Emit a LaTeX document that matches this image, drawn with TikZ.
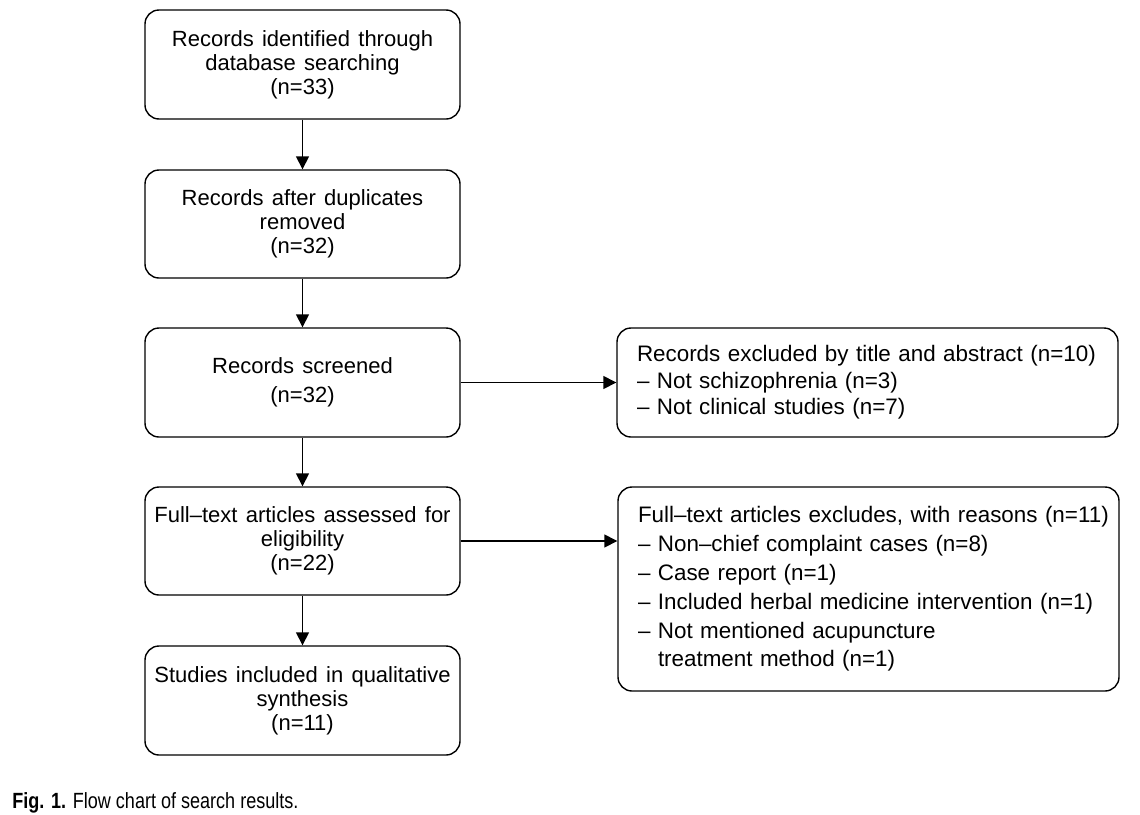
\documentclass[tikz,border=0pt]{standalone}
\usepackage{fontspec}
\setmainfont{Liberation Sans}[WordSpace=1.35]
\newfontfamily\capfont{Liberation Sans}[FakeStretch=0.82]
\usetikzlibrary{arrows.meta}
\newcommand{\lpad}{\hspace*{5pt}}
\tikzset{
  lbox/.style={draw, line width=0.7pt, rounded corners=7pt, align=center,
    minimum width=157.5pt, font=\fontsize{11pt}{12pt}\selectfont, inner sep=0pt},
  rbox/.style={draw, line width=0.7pt, rounded corners=7pt, align=left,
    text width=240.5pt, inner xsep=5pt, inner ysep=0pt},
  arr/.style={line width=0.75pt, -{Triangle[length=6.5pt,width=6.5pt]}},
}
\begin{document}
\begin{tikzpicture}[x=0.5pt,y=-0.5pt]
\useasboundingbox (0,0) rectangle (1140,814);
\node[lbox, minimum height=54.5pt] (b1) at (302.5,64.5) {Records identified through\\database searching\\(n=33)};
\node[lbox, minimum height=54pt] (b2) at (302.5,224) {Records after duplicates\\removed\\(n=32)};
\node[lbox, minimum height=54.5pt] (b3) at (302.5,382.5) {Records screened\\[2.5pt](n=32)};
\node[lbox, minimum height=54pt] (b4) at (302.5,541) {Full–text articles assessed for\\eligibility\\(n=22)};
\node[lbox, minimum height=54.5pt] (b5) at (302.5,700.5) {Studies included in qualitative\\synthesis\\(n=11)};
\node[rbox, minimum height=54.5pt, font=\fontsize{11.2pt}{13.3pt}\selectfont] (r1) at (867.5,382.5) {\lpad Records excluded by title and abstract (n=10)\\\lpad – Not schizophrenia (n=3)\\\lpad – Not clinical studies (n=7)};
\node[rbox, minimum height=102pt, font=\fontsize{11.2pt}{14.4pt}\selectfont] (r2) at (868.5,589) {\lpad Full–text articles excludes, with reasons (n=11)\\\lpad – Non–chief complaint cases (n=8)\\\lpad – Case report (n=1)\\\lpad – Included herbal medicine intervention (n=1)\\\lpad – Not mentioned acupuncture\\\hspace*{15pt}treatment method (n=1)\\[3pt]};
\draw[arr] (b1) -- (b2);
\draw[arr] (b2) -- (b3);
\draw[arr] (b3) -- (b4);
\draw[arr] (b4) -- (b5);
\draw[arr] (b3.east) -- (r1.west);
\draw[arr] (b4.east) -- (b4.east -| r2.west);
\node[anchor=base west, inner sep=0pt, font=\capfont\fontsize{11pt}{13pt}\selectfont] (cap) at (12,808) {\textbf{Fig. 1.} Flow chart of search results.};
\end{tikzpicture}
\end{document}
